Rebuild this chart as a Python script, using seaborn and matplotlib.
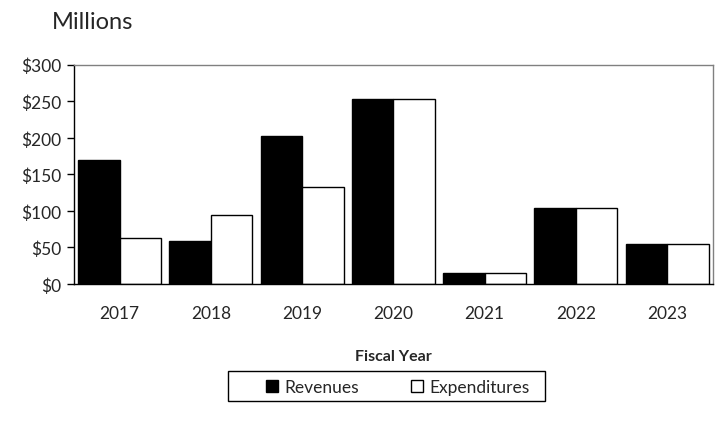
import numpy as np
import pandas as pd
import matplotlib
matplotlib.use('Agg')
import matplotlib.pyplot as plt
import seaborn as sns
from matplotlib.patches import Patch, Rectangle

# 数据
years = ['2017', '2018', '2019', '2020', '2021', '2022', '2023']
revenues = [170, 59, 203, 253, 15, 104, 55]
expenditures = [63, 95, 132, 253, 15, 104, 55]

df = pd.DataFrame({
    'year': years * 2,
    'value': revenues + expenditures,
    'kind': ['Revenues'] * len(years) + ['Expenditures'] * len(years),
})

sns.set_theme(style='white')
plt.rcParams['font.family'] = ['Lato', 'DejaVu Sans']

fig = plt.figure(figsize=(7.25, 4.31), dpi=100)
ax = fig.add_axes([0.102, 0.3387, 0.881, 0.509])

sns.barplot(data=df, x='year', y='value', hue='kind',
            palette={'Revenues': 'black', 'Expenditures': 'white'},
            edgecolor='black', linewidth=1, width=0.91, gap=0,
            legend=False, ax=ax)

ax.set_xlim(-0.5, len(years) - 0.5)
ax.set_ylim(0, 300)
ax.set_yticks(range(0, 301, 50))
ax.set_yticklabels([f'${v}' for v in range(0, 301, 50)], fontsize=12.5)
ax.set_xticks(range(len(years)))
ax.set_xticklabels(years, fontsize=12.5)
ax.set_xticks(np.arange(-0.5, len(years)), minor=True)
ax.tick_params(axis='x', which='major', length=0, pad=15)
ax.tick_params(axis='x', which='minor', length=5, width=1, direction='out', color='black')
ax.tick_params(axis='y', length=5, width=1, direction='out', color='black', left=True, pad=4)

for s in ['left', 'bottom']:
    ax.spines[s].set_color('black')
    ax.spines[s].set_linewidth(1)
for s in ['top', 'right']:
    ax.spines[s].set_color('#808080')
    ax.spines[s].set_linewidth(1)

ax.set_xlabel('Fiscal Year', fontsize=11.5, fontweight='bold', labelpad=20)
ax.set_ylabel('')

fig.text(0.072, 0.948, 'Millions', fontsize=17, ha='left', va='center')

# 图例
handles = [Patch(facecolor='black', edgecolor='black', label='Revenues'),
           Patch(facecolor='white', edgecolor='black', label='Expenditures')]
fig.legend(handles=handles, loc='center', bbox_to_anchor=(0.549, 0.100),
           ncol=2, frameon=False, fontsize=12.5, handlelength=0.65, handleheight=0.65,
           handletextpad=0.4, columnspacing=3.0)
fig.patches.append(Rectangle((0.3145, 0.0673), 0.437, 0.0696, transform=fig.transFigure,
                             facecolor='none', edgecolor='black', linewidth=1))

fig.savefig('out.png', dpi=100)
